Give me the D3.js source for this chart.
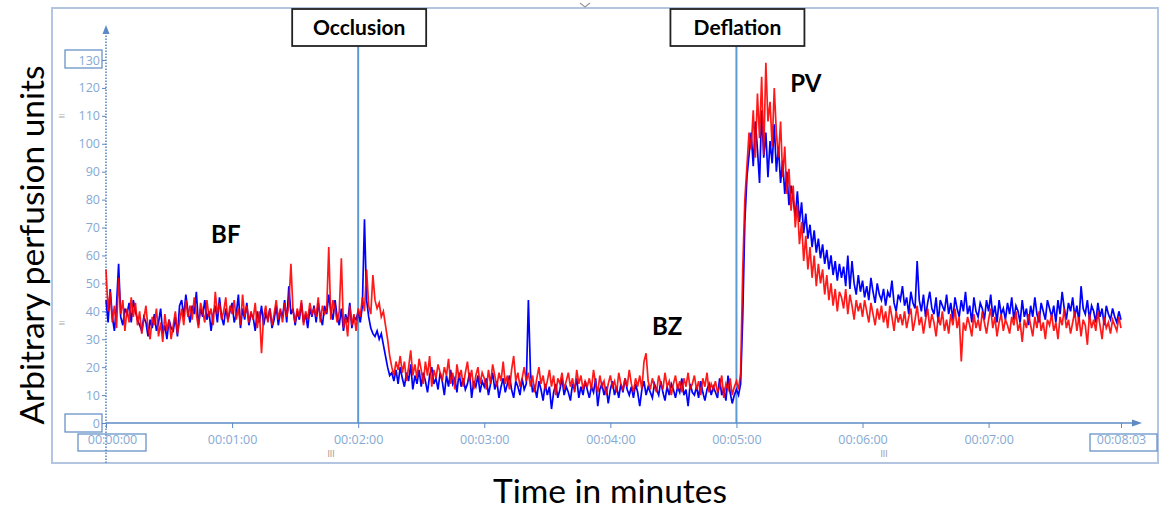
<!DOCTYPE html>
<html>
<head>
<meta charset="utf-8">
<script src="https://cdn.jsdelivr.net/npm/d3@7/dist/d3.min.js"></script>
<style>
  body { margin: 0; background: #fff; }
  svg { display: block; }
</style>
</head>
<body>
<div id="chart"></div>
<script>
// perfusion readings, one per second
const blue = [
  44,36,48,38,33,42,57,38,35,41, 39,43,36,44,40,37,35,33,38,36,
  31,37,34,39,33,36,41,32,35,30, 37,34,33,38,31,42,44,38,46,40,
  36,42,39,47,35,41,38,44,37,40, 33,39,42,36,45,38,35,41,37,40,
  43,36,39,46,34,41,37,43,35,39, 38,33,40,36,42,35,39,37,41,34,
  37,42,35,40,38,44,36,49,39,41, 35,40,37,43,36,39,34,41,38,42,
  36,43,38,35,42,39,46,40,37,44, 38,35,41,33,39,36,43,34,38,37,
  40,36,42,73,44,38,34,32,31,33, 30,32,28,24,20,17,18,15,19,14,
  20,16,13,18,15,21,12,17,14,19, 13,18,15,11,17,20,14,16,12,18,
  15,10,17,13,19,14,16,11,18,13, 16,12,14,18,9,15,13,17,11,15,
  13,16,10,14,18,12,15,9,13,16, 11,14,17,12,9,15,13,10,16,12,
  14,44,18,11,13,9,15,12,8,14, 10,13,5,11,14,9,12,16,10,13,
  11,8,14,12,16,9,13,10,15,12, 9,13,11,16,6,12,14,10,13,7,
  12,15,10,13,9,14,11,16,12,10, 13,9,14,11,6,12,15,10,13,11,
  9,14,12,10,15,11,8,13,10,14, 12,9,13,11,16,10,12,6,14,11,
  10,13,9,15,11,8,12,14,10,13, 11,9,16,10,12,8,17,11,7,10,
  12,10,14,38,72,88,96,104,92,108, 98,86,112,95,104,88,101,93,107,90,
  99,86,94,82,90,78,85,80,74,83, 72,79,68,75,66,71,63,69,61,66,
  59,64,57,62,55,60,53,58,51,57, 52,56,49,60,48,58,50,46,53,47,
  51,45,49,44,52,47,43,50,46,44, 48,42,47,45,51,43,40,46,44,49,
  42,45,39,47,43,41,58,44,40,46, 38,43,47,41,39,45,36,44,42,40,
  46,39,43,37,45,41,38,44,40,47, 39,42,36,45,40,38,43,41,37,44,
  40,46,38,42,36,44,39,41,37,43, 39,45,37,42,40,36,44,38,41,35,
  42,38,45,39,36,43,40,37,44,41, 38,42,36,44,39,47,41,37,43,40,
  45,38,42,36,49,41,39,44,37,42, 40,36,43,38,41,35,42,39,37,41,
  38,36,40,37
];
const red = [
  55,40,47,36,42,34,52,39,44,33, 41,36,45,38,43,35,40,32,37,42,
  34,30,38,35,41,31,36,29,39,33, 37,30,35,40,32,36,41,35,44,38,
  42,37,45,39,34,43,40,36,44,38, 41,35,47,39,43,37,40,45,36,42,
  39,44,37,41,35,46,38,42,36,40, 37,43,34,40,25,38,42,36,41,35,
  39,44,37,41,36,43,38,42,57,40, 36,41,38,44,35,40,37,43,39,41,
  38,45,36,42,39,40,63,37,44,41, 36,40,59,34,38,31,42,35,39,33,
  41,38,45,40,55,42,39,53,44,41, 43,38,40,35,30,24,20,17,22,19,
  24,18,22,15,20,26,17,21,16,23, 19,14,22,17,24,13,19,16,21,18,
  15,20,17,23,14,18,12,21,16,19, 13,18,22,15,19,12,17,20,14,18,
  16,12,19,14,21,17,13,18,15,22, 14,17,12,19,24,15,18,13,16,20,
  15,18,13,17,11,16,20,14,17,12, 15,19,13,17,10,16,14,18,12,15,
  18,13,16,11,19,14,17,12,15,13, 16,12,19,14,11,17,13,15,10,14,
  17,13,15,11,18,14,12,16,13,19, 14,11,16,13,17,12,22,25,15,12,
  16,13,11,17,14,12,18,13,15,10, 14,17,12,15,11,16,13,18,12,14,
  17,12,15,10,16,13,18,11,14,12, 15,11,13,17,9,14,12,16,10,13,
  15,12,18,55,80,92,104,98,112,95, 118,102,124,96,129,108,115,99,120,104,
  95,108,88,99,82,91,76,85,70,78, 64,72,58,67,55,63,52,60,49,57,
  50,55,46,53,44,50,42,48,40,47, 45,41,48,39,46,42,37,44,40,43,
  38,44,40,36,43,39,35,41,37,42, 36,40,34,42,38,33,40,36,39,35,
  40,34,38,41,33,37,42,35,38,32, 37,41,34,39,36,31,38,35,40,33,
  37,32,39,35,41,34,38,22,36,33, 38,35,31,39,34,37,33,40,36,32,
  37,41,34,38,31,36,39,33,37,35, 32,38,35,40,33,36,29,37,34,39,
  35,31,38,34,40,33,36,30,37,35, 39,33,36,30,38,35,41,34,37,32,
  36,40,33,38,31,37,35,28,39,34, 37,33,40,35,30,38,34,36,32,37,
  35,33,38,34
];

const yTickValues = [0,10,20,30,40,50,60,70,80,90,100,110,120,130];
const xTickSeconds = [0,60,120,180,240,300,360,420,483];
const xTickLabels = ["00:00:00","00:01:00","00:02:00","00:03:00","00:04:00","00:05:00","00:06:00","00:07:00","00:08:03"];
const eventNames = ["Occlusion","Deflation"];
const eventSeconds = [120, 300];
const phaseNames = ["BF","BZ","PV"];
const phaseSeconds = [57, 267, 333];
const phaseValues = [68, 35, 122];

const width = 1163, height = 512;
const axisBlue = "#5b8ac4", labelBlue = "#86a9d3";

const svg = d3.select("#chart").append("svg")
  .attr("width", width).attr("height", height);

const x = d3.scaleLinear().domain([0, 483]).range([106, 1121]);
const y = d3.scaleLinear().domain([0, 130]).range([423, 60]);

// outer frame
svg.append("rect")
  .attr("x", 52).attr("y", 8).attr("width", 1106).attr("height", 455)
  .attr("fill", "none").attr("stroke", "#b3c5e0").attr("stroke-width", 2);

// little chevron at top
svg.append("path").attr("d", "M580,3 L585,7 L590,3")
  .attr("fill", "none").attr("stroke", "#999").attr("stroke-width", 1.2);

// y axis
const yAxis = svg.append("g").attr("transform", "translate(106,0)")
  .call(d3.axisLeft(y).tickValues(yTickValues).tickSize(4).tickPadding(2));
yAxis.select(".domain").remove();
yAxis.selectAll(".tick line").attr("stroke", axisBlue);
yAxis.selectAll(".tick text")
  .attr("fill", labelBlue).style("font-family", "'Open Sans', sans-serif").style("font-size", "12.5px");

svg.append("line")
  .attr("x1", 106).attr("x2", 106).attr("y1", 463).attr("y2", 32)
  .attr("stroke", axisBlue).attr("stroke-width", 1.6).attr("stroke-dasharray", "1.5,1.5");
svg.append("path").attr("d", "M106,25 L102.5,34 L109.5,34 Z").attr("fill", axisBlue);

// x axis
const xAxis = svg.append("g").attr("transform", "translate(0,423)")
  .call(d3.axisBottom(x).tickValues(xTickSeconds)
    .tickFormat((d, i) => xTickLabels[i]).tickSize(5).tickPadding(7));
xAxis.select(".domain").remove();
xAxis.selectAll(".tick line").attr("stroke", axisBlue);
xAxis.selectAll(".tick text")
  .attr("fill", labelBlue).style("font-family", "'Open Sans', sans-serif").style("font-size", "12.5px");
// first label sits inside its box, right of the axis
xAxis.selectAll(".tick text").filter(d => d === 0).attr("dx", 6);

svg.append("line")
  .attr("x1", 106).attr("x2", 1134).attr("y1", 423).attr("y2", 423)
  .attr("stroke", axisBlue).attr("stroke-width", 1.4);
svg.append("path").attr("d", "M1142,423 L1132,419.5 L1132,426.5 Z").attr("fill", axisBlue);

// boxes around the extreme labels
[[65, 50, 37, 18], [65, 414, 37, 18], [78, 434, 68, 17], [1090, 434, 67, 17]].forEach(b => {
  svg.append("rect").attr("x", b[0]).attr("y", b[1]).attr("width", b[2]).attr("height", b[3])
    .attr("fill", "none").attr("stroke", axisBlue).attr("stroke-width", 1.2);
});

// handle glyphs
[[62, 120], [62, 327]].forEach(p => {
  svg.append("text").attr("x", p[0]).attr("y", p[1]).text("≡")
    .attr("fill", "#aaa").style("font-size", "12px").attr("text-anchor", "middle");
});
[[331, 457], [884, 457]].forEach(p => {
  svg.append("text").attr("x", p[0]).attr("y", p[1]).text("III")
    .attr("fill", "#999").style("font-size", "8px").style("font-family", "'DejaVu Sans', sans-serif")
    .attr("text-anchor", "middle");
});

// event lines
eventSeconds.forEach(t => {
  svg.append("line")
    .attr("x1", x(t)).attr("x2", x(t)).attr("y1", 46).attr("y2", 423)
    .attr("stroke", "#5b9bd5").attr("stroke-width", 2);
});

// traces
const line = d3.line().x((d, i) => x(i)).y(d => y(d));
svg.append("path").datum(blue).attr("d", line)
  .attr("fill", "none").attr("stroke", "#0000ff").attr("stroke-width", 1.7);
svg.append("path").datum(red).attr("d", line)
  .attr("fill", "none").attr("stroke", "#ff0000").attr("stroke-width", 1.7).attr("opacity", 0.9);

// event boxes
eventNames.forEach((name, i) => {
  const cx = x(eventSeconds[i]);
  svg.append("rect").attr("x", cx - 66).attr("y", 9).attr("width", 134).attr("height", 37)
    .attr("fill", "#fff").attr("stroke", "#222").attr("stroke-width", 1.8);
  svg.append("text").attr("x", cx + 1).attr("y", 34.5).text(name)
    .attr("text-anchor", "middle").style("font-family", "Lato, sans-serif")
    .style("font-weight", "bold").style("font-size", "21px").attr("fill", "#000");
});

// phase labels
phaseNames.forEach((name, i) => {
  svg.append("text").attr("x", x(phaseSeconds[i])).attr("y", y(phaseValues[i])).text(name)
    .attr("text-anchor", "middle").attr("dominant-baseline", "central")
    .style("font-family", "Lato, sans-serif").style("font-weight", "bold")
    .style("font-size", "24px").attr("fill", "#000");
});

// axis titles
svg.append("text").attr("transform", "translate(31,245) rotate(-90)")
  .text("Arbitrary perfusion units").attr("text-anchor", "middle").attr("dominant-baseline", "central")
  .style("font-family", "Lato, sans-serif").style("font-size", "33.5px").attr("fill", "#000");
svg.append("text").attr("x", 610).attr("y", 503)
  .text("Time in minutes").attr("text-anchor", "middle")
  .style("font-family", "Lato, sans-serif").style("font-size", "33.5px").attr("fill", "#000");
</script>
</body>
</html>
